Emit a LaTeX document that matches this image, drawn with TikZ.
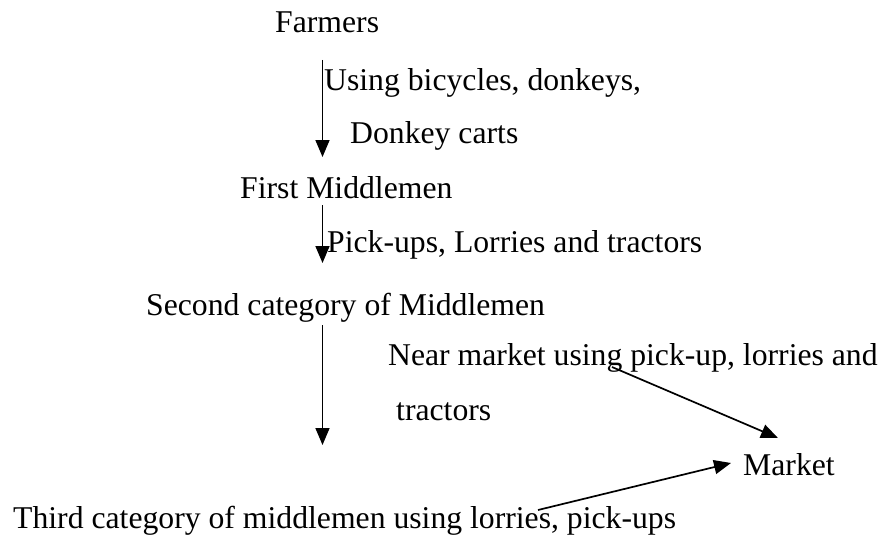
\documentclass[tikz,border=0pt]{standalone}
\usepackage{fontspec}
\setmainfont{Liberation Serif}
\usetikzlibrary{arrows.meta}
\begin{document}
\begin{tikzpicture}[x=1pt,y=-1pt,
  lbl/.style={anchor=base west,inner sep=0pt,font=\fontsize{31.7}{38}\selectfont},
  flow/.style={line width=1.7pt,-{Triangle[width=14pt,length=17pt]}}]
\useasboundingbox (0,0) rectangle (887,535);
\node[lbl] (farmers) at (275,33) {Farmers};
\node[lbl] (l1a) at (324,91) {Using bicycles, donkeys,};
\node[lbl] (l1b) at (350,143) {Donkey carts};
\node[lbl] (first) at (240,198) {First Middlemen};
\node[lbl] (l2) at (327,252) {Pick-ups, Lorries and tractors};
\node[lbl] (second) at (146,315) {Second category of Middlemen};
\node[lbl] (l3a) at (388,365) {Near market using pick-up, lorries and};
\node[lbl] (l3b) at (396,420) {tractors};
\node[lbl] (market) at (743,475) {Market};
\node[lbl] (third) at (13,528) {Third category of middlemen using lorries, pick-ups};
\coordinate (a1s) at (322.5,60);
\coordinate (a1e) at (322.5,157);
\coordinate (a2s) at (322.5,205);
\coordinate (a2e) at (322.5,263);
\coordinate (a3s) at (322.5,325);
\coordinate (a3e) at (322.5,445);
\coordinate (d1s) at (612,367);
\coordinate (d1e) at (778,438);
\coordinate (d2s) at (538,510);
\coordinate (d2e) at (731,463);
\draw[flow] (a1s) -- (a1e);
\draw[flow] (a2s) -- (a2e);
\draw[flow] (a3s) -- (a3e);
\draw[flow] (d1s) -- (d1e);
\draw[flow] (d2s) -- (d2e);
\end{tikzpicture}
\end{document}
